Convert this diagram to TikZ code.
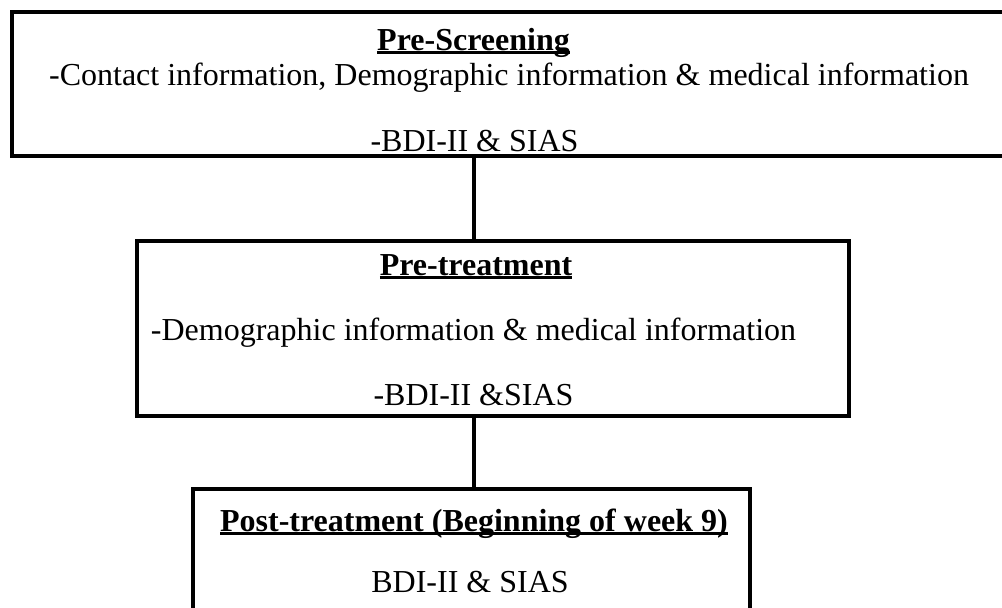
\documentclass[tikz,border=0pt]{standalone}
\usepackage{fontspec}
\setmainfont{Liberation Serif}
\usepackage{tikz}
\newcommand{\hdline}[1]{\setbox0\hbox{#1}\rlap{\vrule height -1.1pt depth 2.9pt width \wd0}\box0}
\tikzset{
  font={\fontsize{24pt}{29pt}\selectfont}}

\begin{document}
\begin{tikzpicture}[x=0.75pt, y=-0.75pt, line width=3.4pt,
  box/.style={draw, shape=rectangle, inner sep=0pt},
  txt/.style={inner sep=0pt, anchor=base}]
  \useasboundingbox (0,0) rectangle (1002,607);
  \clip (0,0) rectangle (1002,607);
  \node (ps) [box, minimum width=747pt, minimum height=108pt] at (510,84) {};
  \node (pt) [box, minimum width=534pt, minimum height=131.25pt] at (493,328.5) {};
  \node (po) [box, minimum width=417.75pt, minimum height=120.75pt] at (471.5,569.5) {};
  \node (pstitle) [txt] at (473.5,50) {\bfseries\hdline{Pre-Screening}};
  \node (psinfo) [txt] at (509,85) {-Contact information, Demographic information \& medical information};
  \node (psscale) [txt] at (474.5,151) {-BDI-II \& SIAS};
  \node (pttitle) [txt] at (476,275) {\bfseries\hdline{Pre-treatment}};
  \node (ptinfo) [txt] at (473.5,340) {-Demographic information \& medical information};
  \node (ptscale) [txt] at (473.5,405) {-BDI-II \&SIAS};
  \node (potitle) [txt] at (474,531) {\bfseries\hdline{Post-treatment (Beginning of week 9)}};
  \node (poscale) [txt] at (470,592) {BDI-II \& SIAS};
  \coordinate (axis) at (474,0);
  \draw[-] (ps.south -| axis) -- (pt.north -| axis);
  \draw[-] (pt.south -| axis) -- (po.north -| axis);
\end{tikzpicture}
\end{document}
